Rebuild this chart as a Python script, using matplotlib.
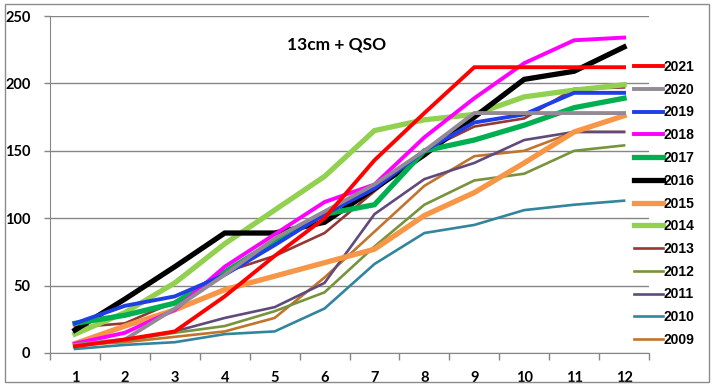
import matplotlib.pyplot as plt
from matplotlib.patches import Rectangle

months = list(range(1, 13))
years = ["2021", "2020", "2019", "2018", "2017", "2016", "2015",
         "2014", "2013", "2012", "2011", "2010", "2009"]

qso_2021 = [5, 10, 16, 42, 72, 100, 143, 178, 212, 212, 212, 212]
qso_2020 = [6, 10, 33, 58, 85, 105, 125, 150, 178, 178, 178, 178]
qso_2019 = [22, 35, 42, 58, 80, 103, 122, 150, 171, 177, 193, 193]
qso_2018 = [7, 15, 32, 64, 88, 112, 125, 160, 189, 215, 232, 234]
qso_2017 = [22, 28, 37, 60, 83, 103, 110, 150, 158, 169, 182, 189]
qso_2016 = [17, 40, 64, 89, 89, 97, 122, 147, 175, 203, 209, 227]
qso_2015 = [7, 20, 32, 47, 57, 67, 77, 102, 119, 141, 164, 176]
qso_2014 = [14, 30, 52, 81, 106, 131, 165, 173, 177, 190, 195, 199]
qso_2013 = [19, 22, 38, 60, 72, 89, 120, 150, 168, 174, 196, 197]
qso_2012 = [5, 9, 15, 20, 31, 45, 79, 110, 128, 133, 150, 154]
qso_2011 = [5, 10, 16, 26, 34, 52, 103, 129, 141, 158, 164, 164]
qso_2010 = [3, 6, 8, 14, 16, 33, 66, 89, 95, 106, 110, 113]
qso_2009 = [6, 8, 12, 16, 26, 56, 90, 124, 146, 150, 164, 164]

series = [qso_2021, qso_2020, qso_2019, qso_2018, qso_2017, qso_2016, qso_2015,
          qso_2014, qso_2013, qso_2012, qso_2011, qso_2010, qso_2009]
colors = ["#FF0000", "#948A96", "#1F3FE6", "#FF00FF", "#00B050", "#000000", "#F79646",
          "#92D050", "#953735", "#77933C", "#604A7B", "#31859C", "#C0742E"]
widths = [2.8, 2.8, 2.8, 2.8, 3.8, 3.8, 3.8, 3.8, 1.9, 1.9, 1.9, 1.9, 1.9]

fig = plt.figure(figsize=(7.13, 3.86), dpi=100)
ax = fig.add_axes([50 / 713, 33 / 386, 599 / 713, 337 / 386])

# draw oldest first so recent years sit on top
lines = []
for i in range(len(series) - 1, -1, -1):
    ln, = ax.plot(months, series[i], color=colors[i], lw=widths[i],
                  solid_joinstyle="miter", label=years[i], zorder=3)
    lines.insert(0, ln)

ax.set_xlim(0.5, 12.5)
ax.set_ylim(0, 250)
ax.set_yticks(range(0, 251, 50))
ax.set_xticks(months)
ax.set_xticks([m + 0.5 for m in range(0, 13)], minor=True)
ax.tick_params(axis="x", which="major", length=0, pad=13)
ax.tick_params(axis="x", which="minor", length=5, color="#868686", width=1, direction="out")
ax.tick_params(axis="y", length=4, color="#868686", width=1, direction="out", pad=10)
for lbl in ax.get_xticklabels() + ax.get_yticklabels():
    lbl.set_fontweight("bold")
    lbl.set_fontsize(10.5)
    lbl.set_family("Lato")
ax.grid(axis="y", color="#868686", lw=1, zorder=1)
for s in ["top", "right"]:
    ax.spines[s].set_visible(False)
ax.spines["left"].set_color("#868686")
ax.spines["bottom"].set_color("#868686")

fig.text(337 / 713, 1 - 45 / 386, "13cm + QSO", ha="center", va="center",
         fontsize=12.5, fontweight="bold", family="Lato")

fig.legend(lines, years, loc="upper left", bbox_to_anchor=(634 / 713, 1 - 60 / 386),
           frameon=False, prop={"family": "Liberation Sans", "weight": "bold", "size": 10},
           handlelength=2.1, handletextpad=0.05, labelspacing=0.63, borderaxespad=0,
           borderpad=0)

fig.patches.append(Rectangle((5 / 713, 1 - 382 / 386), 704 / 713, 378 / 386,
                             transform=fig.transFigure, fill=False, edgecolor="#8c8c8c", lw=1))

fig.savefig("out.png", dpi=100)
